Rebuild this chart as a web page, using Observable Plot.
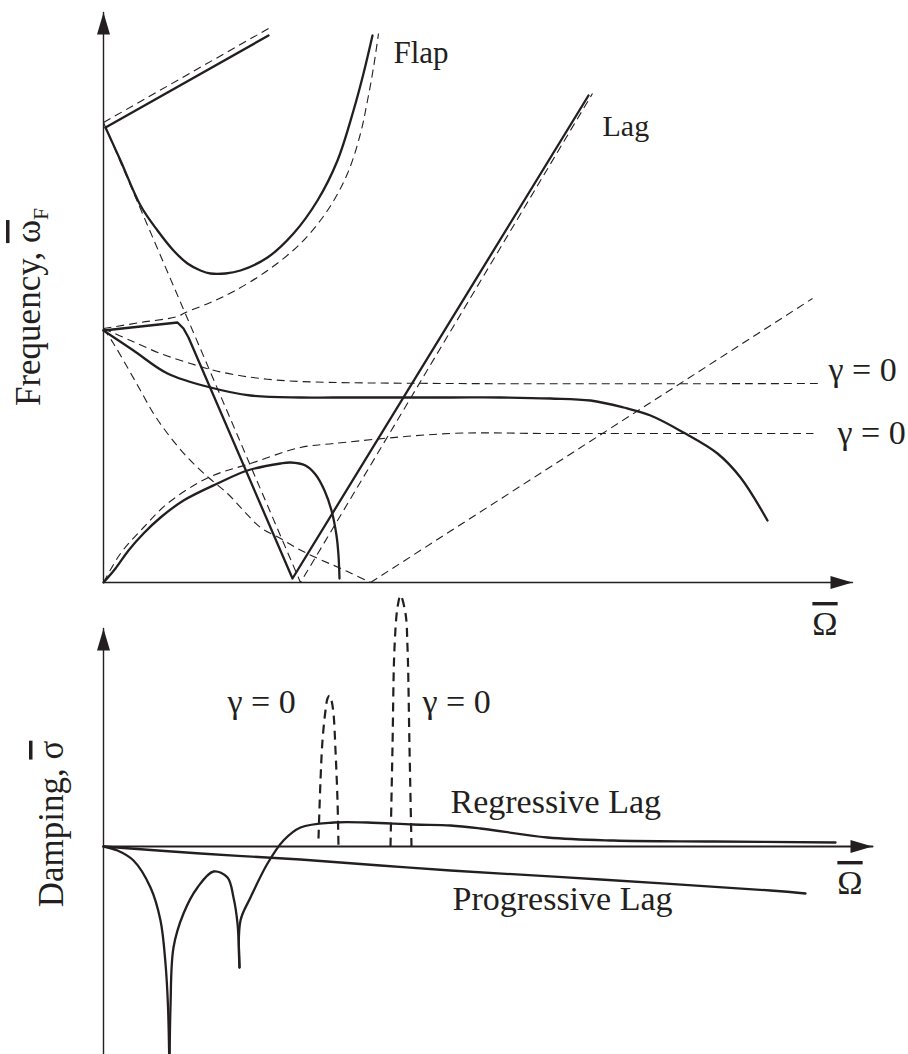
<!DOCTYPE html>
<html>
<head>
<meta charset="utf-8">
<script src="https://cdn.jsdelivr.net/npm/d3@7"></script>
<script src="https://cdn.jsdelivr.net/npm/@observablehq/plot@0.6"></script>
<style>
  html, body { margin: 0; padding: 0; background: #fff; overflow: hidden; }
  #wrap { position: relative; width: 908px; height: 1054px; }
  #wrap svg { position: absolute; left: 0; background: transparent; }
</style>
</head>
<body>
<div id="wrap"></div>
<script>
// ---------- TOP PANEL: frequency (fixed frame) vs rotor speed ----------
// solid = coupled (with aerodynamics), dashed = γ = 0
const flapUpperSolid  = [[0.02,4.55],[1.65,5.47]];
const flapUpperDashed = [[0,4.60],[1.65,5.54]];
const flapSolid = [[0.02,4.55],[0.17,4.22],[0.37,3.77],[0.54,3.52],[0.70,3.32],[0.84,3.19],[0.97,3.12],[1.07,3.09],[1.22,3.09],[1.37,3.12],[1.64,3.25],[1.90,3.49],[2.14,3.82],[2.34,4.22],[2.50,4.72],[2.60,5.09],[2.69,5.47]];
const flapDashed = [[0,2.54],[0.37,2.60],[0.74,2.66],[0.82,2.70],[1.07,2.80],[1.30,2.91],[1.64,3.12],[1.97,3.39],[2.24,3.72],[2.44,4.09],[2.57,4.49],[2.64,4.82],[2.70,5.15],[2.75,5.49]];
const flapFallDashed = [[0,4.60],[1.97,0],[4.89,4.89]];
const lagSolid = [[0,2.52],[0.74,2.60],[0.80,2.54],[0.85,2.45],[1.89,0.04],[4.85,4.87]];
const bodyUpperSolid = [[0,2.52],[0.30,2.32],[0.64,2.09],[1.07,1.95],[1.47,1.87],[1.97,1.85],[2.30,1.85],[3.47,1.85],[3.97,1.85],[4.47,1.84],[4.87,1.82],[5.20,1.75],[5.47,1.67],[5.80,1.50],[6.14,1.29],[6.37,1.05],[6.64,0.62]];
const bodyUpperDashed = [[0,2.54],[0.27,2.42],[0.57,2.29],[0.87,2.19],[1.07,2.13],[1.30,2.08],[1.57,2.04],[1.97,2.01],[3.47,1.99],[7.15,1.99]];
const bodyLowerDashed = [[0,0],[0.17,0.29],[0.40,0.55],[0.64,0.79],[1.05,1.05],[1.47,1.19],[1.97,1.35],[2.30,1.39],[3.47,1.49],[4.50,1.49],[7.10,1.49]];
const bodyLowerSolid = [[0,0],[0.12,0.14],[0.25,0.32],[0.40,0.49],[0.57,0.65],[0.80,0.82],[1.14,0.99],[1.44,1.12],[1.77,1.19],[1.87,1.20],[2.02,1.17],[2.12,1.08],[2.21,0.92],[2.28,0.72],[2.33,0.47],[2.35,0.27],[2.36,0.04]];
const lagRegressDashed = [[0,2.54],[0.10,2.39],[0.24,2.15],[0.37,1.92],[0.50,1.69],[0.64,1.49],[0.84,1.25],[1.05,1.05],[1.24,0.89],[1.40,0.72],[1.57,0.55],[1.77,0.44],[1.94,0.34],[2.10,0.26],[2.44,0.11],[2.67,0]];
const lagRiseDashed = [[2.67,0],[7.09,2.84]];
const topXAxis = [[0,0],[7.49,0]];
const topYAxis = [[0,0],[0,5.70]];
const topLabels = [
  {x: 2.90, y: 5.20, text: "Flap", size: 31},
  {x: 4.99, y: 4.47, text: "Lag", size: 30},
  {x: 7.25, y: 2.02, text: "γ = 0", size: 34},
  {x: 7.34, y: 1.39, text: "γ = 0", size: 34}
];

// ---------- BOTTOM PANEL: damping vs rotor speed ----------
const regressA = [[0,0],[0.14,-0.04],[0.30,-0.14],[0.47,-0.41],[0.57,-0.74],[0.62,-1.17],[0.645,-1.60],[0.66,-2.30]];
const regressB = [[0.66,-2.30],[0.67,-1.60],[0.70,-1.01],[0.80,-0.67],[0.94,-0.41],[1.10,-0.25],[1.24,-0.31],[1.30,-0.51],[1.34,-0.77],[1.36,-1.21]];
const regressC = [[1.36,-1.21],[1.37,-0.74],[1.47,-0.51],[1.64,-0.17],[1.80,0.06],[1.97,0.19],[2.30,0.24],[2.64,0.24],[3.10,0.22],[3.47,0.21],[3.77,0.18],[4.44,0.09],[5.10,0.06],[6.10,0.05],[7.32,0.04]];
const progressive = [[0,0],[0.97,-0.07],[1.97,-0.13],[2.77,-0.19],[3.47,-0.24],[4.97,-0.33],[6.67,-0.44],[7.02,-0.47]];
const peak1 = [[2.15,0.08],[2.17,0.66],[2.19,1.06],[2.22,1.36],[2.24,1.48],[2.26,1.51],[2.28,1.46],[2.30,1.33],[2.32,0.96],[2.34,0.46],[2.35,0]];
const peak2 = [[2.87,0],[2.89,0.99],[2.91,1.99],[2.94,2.39],[2.97,2.51],[3.02,2.33],[3.04,1.99],[3.06,0.99],[3.08,0]];
const bottomXAxis = [[0,0],[7.69,0]];
const bottomYAxis = [[0,-2.08],[0,2.18]];
const bottomLabels = [
  {x: 1.24, y: 1.34, text: "γ = 0", size: 34},
  {x: 3.19, y: 1.34, text: "γ = 0", size: 34},
  {x: 3.47, y: 0.34, text: "Regressive Lag", size: 34},
  {x: 3.49, y: -0.63, text: "Progressive Lag", size: 34}
];

// ---------- rendering ----------
const INK = "#231f20";
const FONT = "'Liberation Serif', 'Times New Roman', serif";
const segs = (obj) => Object.entries(obj).flatMap(([k, a]) => a.map(([x, y]) => ({x, y, k})));

function addArrows(svg, id) {
  const s = d3.select(svg);
  const defs = s.insert("defs", ":first-child");
  defs.append("marker").attr("id", id)
    .attr("markerUnits", "userSpaceOnUse")
    .attr("markerWidth", 22).attr("markerHeight", 13)
    .attr("refX", 22).attr("refY", 6.5)
    .attr("orient", "auto").attr("overflow", "visible")
    .append("path").attr("d", "M0,0L22,6.5L0,13Z").attr("fill", INK);
  s.selectAll('g[aria-description="axis"] path').attr("marker-end", `url(#${id})`);
}

function richText(svg, px, py, rotate, parts, size) {
  const t = d3.select(svg).append("text")
    .attr("transform", `translate(${px},${py}) rotate(${rotate})`)
    .attr("text-anchor", "middle")
    .attr("font-family", FONT).attr("font-size", size).attr("fill", INK);
  for (const p of parts) {
    const s = t.append("tspan").text(p.t);
    if (p.over) s.style("text-decoration", "overline").style("text-decoration-thickness", "2.5px");
    if (p.sub) s.attr("font-size", size * 0.62).attr("dy", size * 0.22);
  }
}

const common = {
  width: 908,
  marginLeft: 103, marginRight: 0, marginTop: 0,
  x: {domain: [0, 8.05], axis: null},
  style: {background: "transparent"}
};
const thinDash = {x: "x", y: "y", z: "k", stroke: INK, strokeWidth: 1.1, strokeDasharray: "8,5", strokeLinecap: "butt"};
const solid = {x: "x", y: "y", z: "k", stroke: INK, strokeWidth: 2.3};

const topPlot = Plot.plot({
  ...common,
  height: 650, marginBottom: 68,
  y: {domain: [0, 5.82], axis: null},
  marks: [
    Plot.line(segs({flapUpperDashed, flapFallDashed, lagRiseDashed}), {...thinDash, curve: "linear"}),
    Plot.line(segs({flapDashed, bodyUpperDashed, bodyLowerDashed, lagRegressDashed}), {...thinDash, curve: "catmull-rom"}),
    Plot.line(segs({flapUpperSolid, lagSolid}), {...solid, curve: "linear"}),
    Plot.line(segs({flapSolid, bodyUpperSolid, bodyLowerSolid}), {...solid, curve: "catmull-rom"}),
    Plot.line(segs({topXAxis, topYAxis}),
      {x: "x", y: "y", z: "k", stroke: INK, strokeWidth: 1.4, ariaDescription: "axis"}),
    Plot.text(topLabels,
      {x: "x", y: "y", text: "text", textAnchor: "start", lineAnchor: "bottom", fontFamily: FONT, fontSize: "size", fill: INK})
  ]
});
topPlot.style.top = "0px";

const bottomPlot = Plot.plot({
  ...common,
  height: 469, marginBottom: 0,
  y: {domain: [-2.08, 2.61], axis: null},
  marks: [
    Plot.line(segs({peak1, peak2}),
      {x: "x", y: "y", z: "k", stroke: INK, strokeWidth: 2.2, strokeDasharray: "9,6", strokeLinecap: "butt", curve: "catmull-rom"}),
    Plot.line(segs({regressA, regressB, regressC, progressive}), {...solid, curve: "catmull-rom"}),
    Plot.line(segs({bottomXAxis}),
      {x: "x", y: "y", z: "k", stroke: INK, strokeWidth: 2.0, ariaDescription: "axis"}),
    Plot.line(segs({bottomYAxis}),
      {x: "x", y: "y", z: "k", stroke: INK, strokeWidth: 1.4, ariaDescription: "axis"}),
    Plot.text(bottomLabels,
      {x: "x", y: "y", text: "text", textAnchor: "start", lineAnchor: "bottom", fontFamily: FONT, fontSize: "size", fill: INK})
  ]
});
bottomPlot.style.top = "585px";

const wrap = document.getElementById("wrap");
wrap.appendChild(topPlot);
wrap.appendChild(bottomPlot);

addArrows(topPlot, "arrowTop");
addArrows(bottomPlot, "arrowBottom");

// axis titles with overline / subscript
const xt = topPlot.scale("x"), yt = topPlot.scale("y");
const xb = bottomPlot.scale("x"), yb = bottomPlot.scale("y");
richText(topPlot, xt.apply(-0.63), yt.apply(2.75), -90,
  [{t: "Frequency, "}, {t: "ω", over: true}, {t: "F", sub: true}], 35);
richText(topPlot, xt.apply(7.22), yt.apply(-0.53), 0, [{t: "Ω", over: true}], 34);
richText(bottomPlot, xb.apply(-0.40), yb.apply(0.22), -90,
  [{t: "Damping, "}, {t: "σ", over: true}], 35);
richText(bottomPlot, xb.apply(7.47), yb.apply(-0.48), 0, [{t: "Ω", over: true}], 34);
</script>
</body>
</html>
